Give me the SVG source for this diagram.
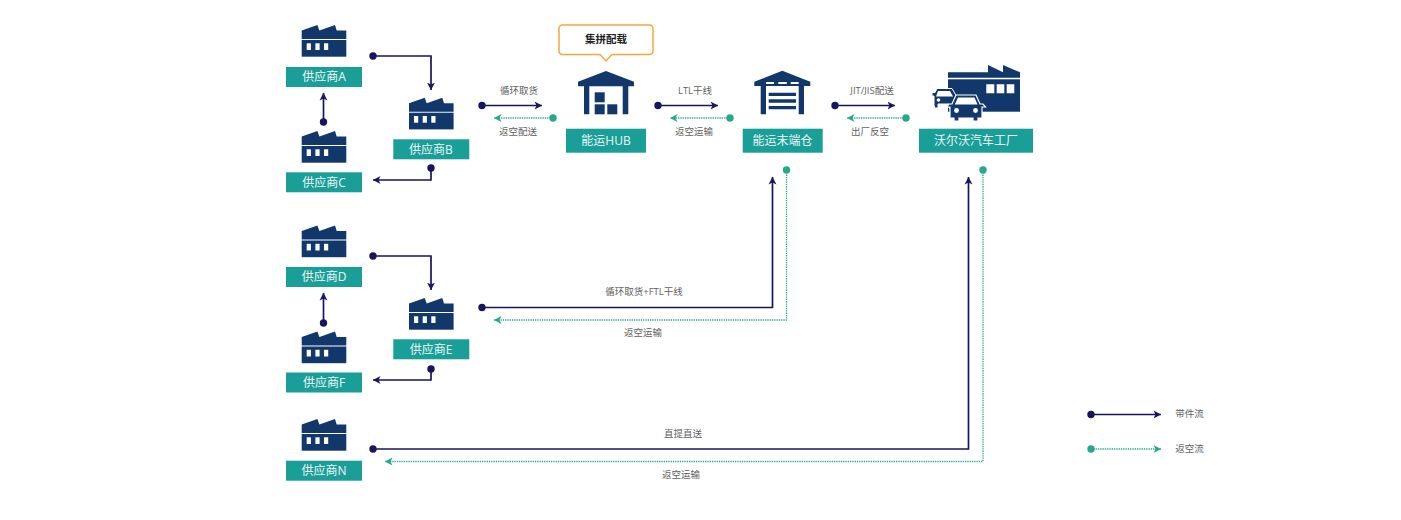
<svg xmlns="http://www.w3.org/2000/svg" width="1401" height="520" viewBox="0 0 1401 520">
<style>
text{font-family:"Open Sans","Noto Sans CJK SC",sans-serif}
.lb{fill:#eef7f6;font-size:12px;text-anchor:middle}
.t{fill:#5f5f5f;font-size:9.5px;text-anchor:middle}
.box{fill:#1a9e98}
.ic{fill:#12386b}
.wh{fill:#fff}
.nv{fill:none;stroke:#19145f;stroke-width:1.7}
.gr{fill:none;stroke:#27a888;stroke-width:1.3;stroke-dasharray:1.3 1}
.nd{fill:#19145f}
.gd{fill:#27a888}
</style>
<defs>
<marker id="an" markerUnits="userSpaceOnUse" markerWidth="10" markerHeight="10" refX="7.500" refY="4.500" orient="auto"><path d="M0,0.500L7.500,4.500L0,8.500L2,4.500Z" fill="#19145f"/></marker>
<marker id="ag" markerUnits="userSpaceOnUse" markerWidth="10" markerHeight="10" refX="7.500" refY="4.500" orient="auto"><path d="M0,0.500L7.500,4.500L0,8.500L2,4.500Z" fill="#27a888"/></marker>
<g id="fac">
<path class="ic" d="M0,5.500L15.700,0L17.700,5.500L33.300,0L35,5.500H44.600V14H0Z"/>
<rect class="ic" y="15" width="44.600" height="16.700"/>
<rect class="wh" x="5" y="18.300" width="4.200" height="6.700"/>
<rect class="wh" x="13.700" y="18.300" width="4.200" height="6.700"/>
<rect class="wh" x="22.300" y="18.300" width="4.200" height="6.700"/>
</g>
</defs>
<rect width="1401" height="520" fill="#fff"/>
<g id="connectors">
<g class="nv">
<path d="M373,56H431V90" marker-end="url(#an)"/>
<path d="M323.500,122V93" marker-end="url(#an)"/>
<path d="M431,168V180H373" marker-end="url(#an)"/>
<path d="M373,256H431V290" marker-end="url(#an)"/>
<path d="M323.500,323V293" marker-end="url(#an)"/>
<path d="M431,369V380H373" marker-end="url(#an)"/>
<path d="M482,105.500H542" marker-end="url(#an)"/>
<path d="M658,105.500H718" marker-end="url(#an)"/>
<path d="M835,105.500H895" marker-end="url(#an)"/>
<path d="M482,307.500H772.500V177" marker-end="url(#an)"/>
<path d="M373,449H968.500V177" marker-end="url(#an)"/>
<path d="M1091,414.500H1161" marker-end="url(#an)"/>
</g>
<g class="gr">
<path d="M553,118H494" marker-end="url(#ag)"/>
<path d="M730,118H670" marker-end="url(#ag)"/>
<path d="M906,118H847" marker-end="url(#ag)"/>
<path d="M786.500,170V320H494" marker-end="url(#ag)"/>
<path d="M983,170V461.500H385" marker-end="url(#ag)"/>
<path d="M1091,449H1161" marker-end="url(#ag)"/>
</g>
<g class="nd">
<circle cx="373" cy="56" r="3.700"/><circle cx="323.500" cy="122" r="3.700"/><circle cx="431" cy="168" r="3.700"/>
<circle cx="373" cy="256" r="3.700"/><circle cx="323.500" cy="323" r="3.700"/><circle cx="431" cy="369" r="3.700"/>
<circle cx="482" cy="105.500" r="3.700"/><circle cx="658" cy="105.500" r="3.700"/><circle cx="835" cy="105.500" r="3.700"/>
<circle cx="482" cy="307.500" r="3.700"/><circle cx="373" cy="449" r="3.700"/><circle cx="1091" cy="414.500" r="3.700"/>
</g>
<g class="gd">
<circle cx="553" cy="118" r="3.700"/><circle cx="730" cy="118" r="3.700"/><circle cx="906" cy="118" r="3.700"/>
<circle cx="786.500" cy="170" r="3.700"/><circle cx="983" cy="170" r="3.700"/><circle cx="1091" cy="449" r="3.700"/>
</g>
</g>
<g id="supplier-a"><use href="#fac" x="301.700" y="25"/><rect class="box" x="286" y="67" width="76" height="20"/><text class="lb" x="324" y="81.300">供应商A</text></g>
<g id="supplier-c"><use href="#fac" x="301.700" y="131"/><rect class="box" x="286" y="172.300" width="76" height="20"/><text class="lb" x="324" y="186.700">供应商C</text></g>
<g id="supplier-b"><use href="#fac" x="409" y="97.700"/><rect class="box" x="393.300" y="139.300" width="76" height="20"/><text class="lb" x="431" y="153.700">供应商B</text></g>
<g id="supplier-d"><use href="#fac" x="301.700" y="225.500"/><rect class="box" x="286" y="267" width="76" height="20"/><text class="lb" x="324" y="281.300">供应商D</text></g>
<g id="supplier-f"><use href="#fac" x="301.700" y="331.500"/><rect class="box" x="286" y="372.500" width="76" height="20"/><text class="lb" x="324" y="386.800">供应商F</text></g>
<g id="supplier-e"><use href="#fac" x="409" y="298"/><rect class="box" x="393.300" y="339.300" width="76" height="20"/><text class="lb" x="431" y="353.700">供应商E</text></g>
<g id="supplier-n"><use href="#fac" x="301.700" y="419"/><rect class="box" x="286" y="460.700" width="76" height="20"/><text class="lb" x="324" y="475">供应商N</text></g>
<g id="hub">
<path class="ic" d="M606,71L634,81.700V86.300H628.300V114.300H622.700V86.300H589.300V114.300H584V86.300H578V81.700Z"/>
<rect class="ic" x="594.700" y="92.300" width="10" height="10"/><rect class="ic" x="594.700" y="104.300" width="10" height="10"/><rect class="ic" x="607.300" y="104.300" width="10" height="10"/>
<rect class="box" x="566" y="128.700" width="80" height="24"/><text class="lb" x="606" y="145">能运HUB</text>
</g>
<g id="callout">
<path d="M562.500,25H649.500A3.500,3.500 0 0 1 653,28.500V51A3.500,3.500 0 0 1 649.500,54.500H612L606,61L600,54.500H562.500A3.500,3.500 0 0 1 559,51V28.500A3.500,3.500 0 0 1 562.500,25Z" fill="#fff" stroke="#f5a93a" stroke-width="1.500"/>
<text x="606" y="42.500" font-size="10.500px" font-weight="700" fill="#222" text-anchor="middle">集拼配载</text>
</g>
<g id="terminal">
<path class="ic" d="M782.300,70.700L810.300,81.700V86H804V114.300H798.700V86H766V114.300H760.700V86H754.300V81.700Z"/>
<path class="wh" d="M766,82h8v2h-8zM778.300,82h8.400v2h-8.400zM790.700,82h8v2h-8z"/>
<path class="ic" d="M768.700,92.700H796V96H768.700ZM768.700,99.300H796V102.700H768.700ZM768.700,106H796V109.300H768.700Z"/>
<rect class="box" x="742.700" y="128.700" width="80" height="24"/><text class="lb" x="782.500" y="145">能运末端仓</text>
</g>
<g id="plant">
<path class="ic" d="M948,72.300H988V65L1003,72.300V65L1020,72.300V77.700H948Z"/>
<rect class="ic" x="948" y="79.300" width="72" height="32.400"/>
<path class="wh" d="M986.300,84.300h8v9h-8zM996.700,84.300h7.600v9h-7.600zM1006.700,84.300h7.600v9h-7.600z"/>
<path class="ic" stroke="#fff" stroke-width="1" d="M937,88.500H952L957,97H959V100H956V106H952V108H949V104H938V108H934.500V106H934V96H932V92.500H935Z"/>
<path class="wh" d="M938,91H950L953,96.500H936Z"/>
<circle class="wh" cx="938.500" cy="100" r="1.800"/>
<path class="ic" stroke="#fff" stroke-width="1.200" d="M956,95H976L980,104H983L985.500,107H982V118H978V121H973V118H959V121H954V118H950V107H946.500L949,104H952Z"/>
<path class="wh" d="M958,97.500H974.500L977.500,104.500H954.800Z"/>
<circle class="wh" cx="956.500" cy="110.500" r="2.400"/><circle class="wh" cx="975.500" cy="110.500" r="2.400"/>
<rect class="box" x="919" y="128.700" width="114" height="24"/><text class="lb" x="976" y="145">沃尔沃汽车工厂</text>
</g>
<g id="labels">
<text class="t" x="519" y="94">循环取货</text><text class="t" x="518" y="135">返空配送</text>
<text class="t" x="695" y="94">LTL干线</text><text class="t" x="694" y="135">返空运输</text>
<text class="t" x="872" y="94">JIT/JIS配送</text><text class="t" x="870" y="135">出厂反空</text>
<text class="t" x="644" y="295">循环取货+FTL干线</text><text class="t" x="643" y="336">返空运输</text>
<text class="t" x="683" y="436.500">直提直送</text><text class="t" x="681" y="478">返空运输</text>
<text class="t" x="1189.500" y="417">带件流</text><text class="t" x="1189.500" y="452">返空流</text>
</g>
</svg>
